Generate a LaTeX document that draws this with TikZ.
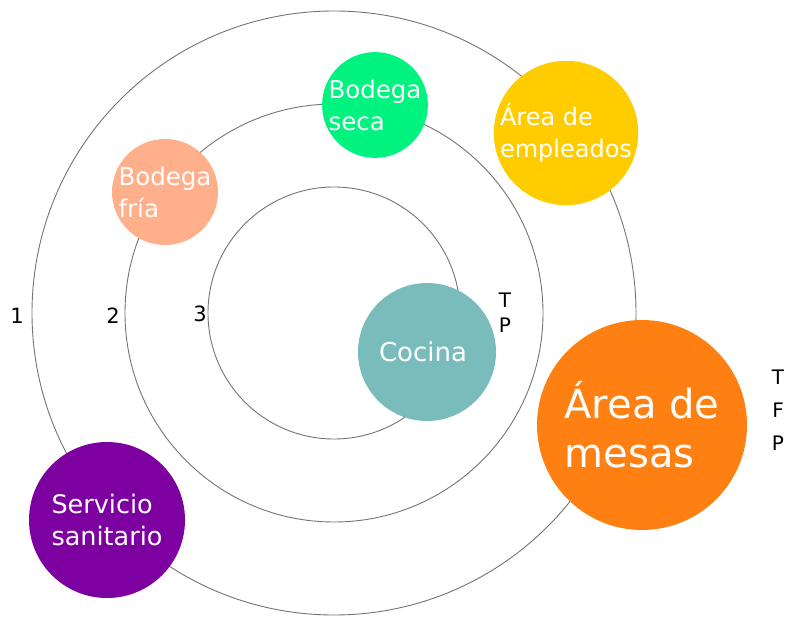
\documentclass[tikz,border=0pt]{standalone}
\usepackage{fontspec}
\setmainfont{DejaVu Sans}
\usetikzlibrary{positioning}
\definecolor{verdeseca}{HTML}{00F27F}
\definecolor{amarillo}{HTML}{FFCC00}
\definecolor{salmon}{HTML}{FFAF89}
\definecolor{turquesa}{HTML}{7ABCBC}
\definecolor{naranja}{HTML}{FF8012}
\definecolor{morado}{HTML}{7D00A0}

\begin{document}
\begin{tikzpicture}[x=1pt,y=-1pt,
  ring/.style={draw=black!55, line width=0.9pt},
  area/.style={circle, inner sep=0pt, text=white, align=left},
  num/.style={font=\fontsize{21}{25}\selectfont, align=center}]
\useasboundingbox (0,0) rectangle (795,617);
\coordinate (centro) at (334,313);
\foreach \r in {302,209,126} {
  \draw[ring] (centro) circle (\r);
}
% zonas
\node[area, fill=verdeseca, minimum size=104pt, font=\fontsize{24.5}{32}\selectfont] (seca) at (375,105) {Bodega\\seca};
\node[area, fill=amarillo, minimum size=138pt, font=\fontsize{24}{32}\selectfont] (empleados) at (566,133) {Área de\\empleados};
\node[area, fill=salmon, minimum size=106pt, font=\fontsize{24.5}{32}\selectfont] (fria) at (165,192) {Bodega\\fría};
\node[area, fill=turquesa, minimum size=138pt, font=\fontsize{26}{32}\selectfont] (cocina) at (427,352) {\hspace*{-8pt}Cocina};
\node[area, fill=naranja, minimum size=210pt, font=\fontsize{40}{49}\selectfont] (mesas) at (642,425) {Área de\\mesas};
\node[area, fill=morado, minimum size=156pt, font=\fontsize{25.5}{32}\selectfont] (sanitario) at (107,520) {Servicio\\sanitario};
% numeros
\node[num] (uno) at (17,316) {1};
\node[num] (dos) at (113,316) {2};
\node[num] (tres) at (200,314) {3};
\node[num, font=\fontsize{20}{25}\selectfont] (tp) at (505,313) {T\\P};
\node[num, font=\fontsize{20}{33}\selectfont] (tfp) at (778,410) {T\\F\\P};
\end{tikzpicture}
\end{document}
